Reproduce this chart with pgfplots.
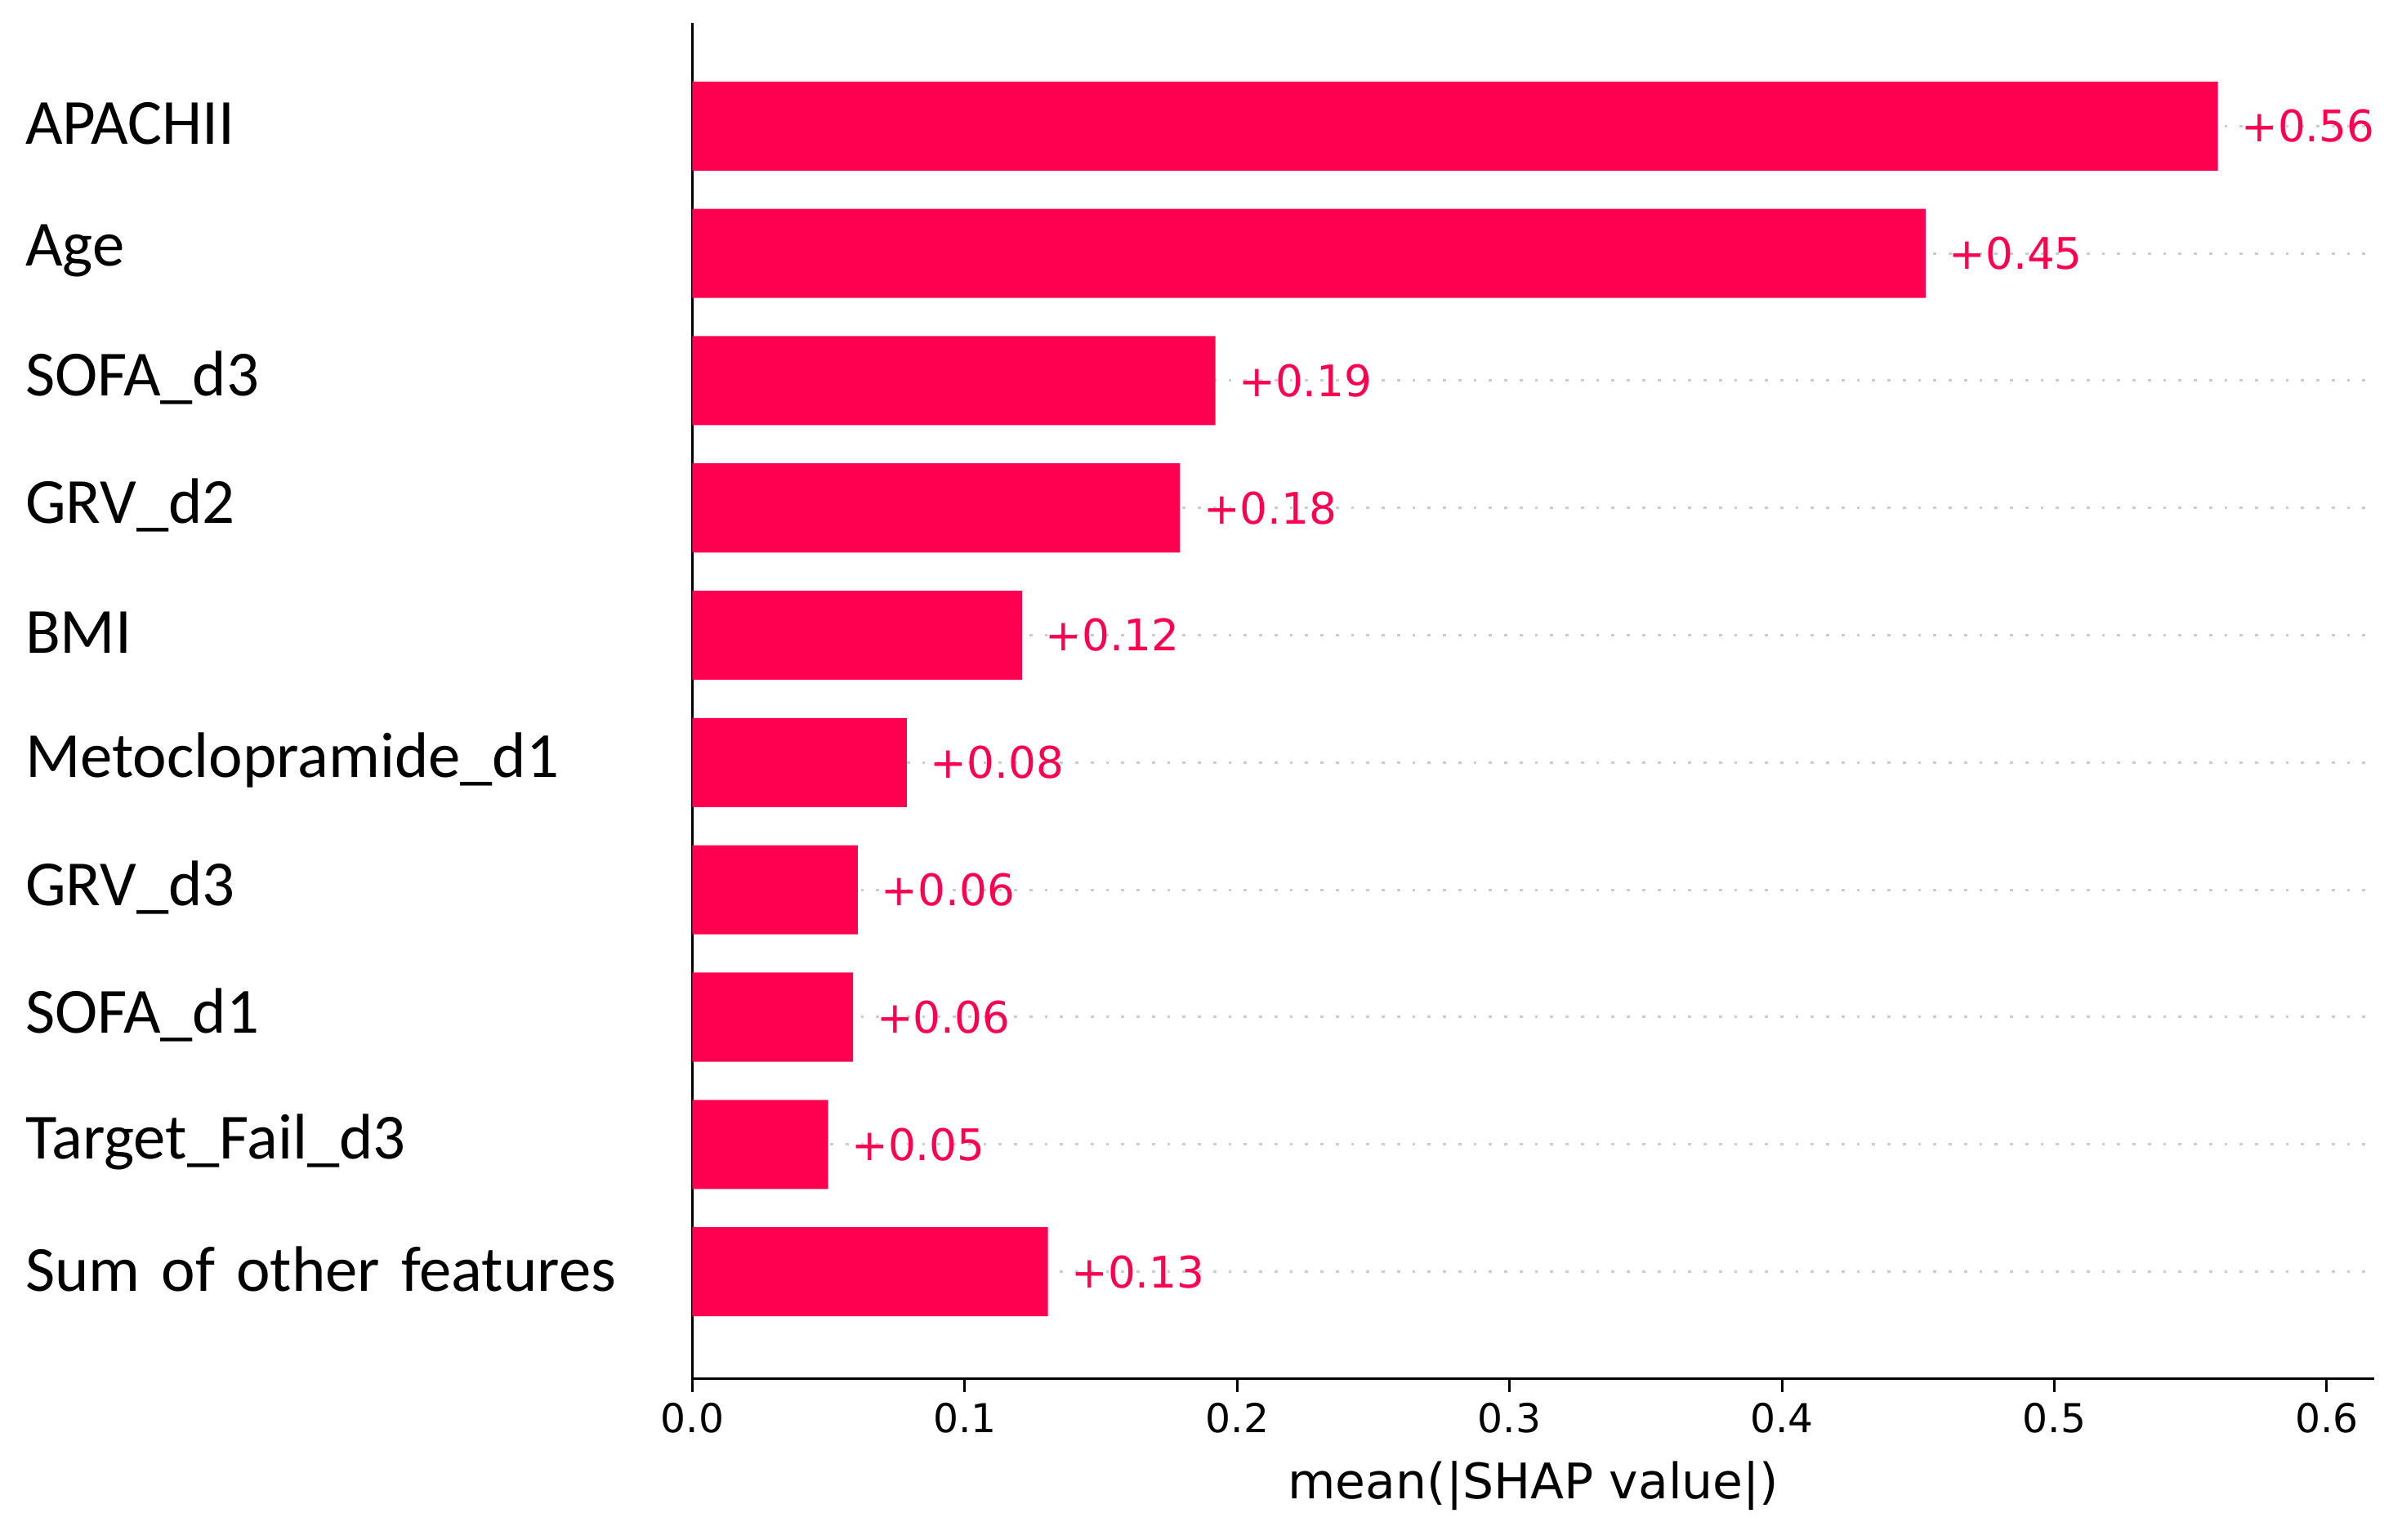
\documentclass[border=0pt]{standalone}
\usepackage{pgfplots}
\pgfplotsset{compat=1.18}
\usepackage{fontspec}
\setmainfont{DejaVu Sans}
\newfontfamily\calibri{Carlito}
\definecolor{shapred}{RGB}{255,0,81}
\definecolor{gridgray}{HTML}{CCCCCC}

\begin{document}
\begin{tikzpicture}
\begin{axis}[
    xbar,
    scale only axis,
    width=549bp, height=442.5bp,
    at={(0,0)}, anchor=south west,
    xmin=0, xmax=0.6175,
    ymin=-0.84, ymax=9.81,
    axis x line*=bottom, axis y line*=left,
    axis line style={line width=0.8bp, black, -},
    bar width=0.7,
    ytick={0,1,2,3,4,5,6,7,8,9},
    yticklabels={Sum of other features, Target\_Fail\_d3, SOFA\_d1, GRV\_d3,
        Metoclopramide\_d1, BMI, GRV\_d2, SOFA\_d3, Age, APACHII},
    yticklabel style={font=\calibri\fontsize{21bp}{25bp}\selectfont,
        anchor=east, text width=213bp, align=left, inner sep=0pt, yshift=0.8bp},
    ytick style={draw=none},
    xtick={0,0.1,0.2,0.3,0.4,0.5,0.6},
    xticklabel style={font=\fontsize{13bp}{15bp}\selectfont,
        /pgf/number format/.cd, fixed, fixed zerofill, precision=1},
    tick align=outside,
    major tick length=4.5bp,
    xtick style={line width=0.8bp, black},
    /pgf/number format/assume math mode=true,
    ymajorgrids,
    grid style={gridgray, line width=0.8bp, dash pattern=on 1bp off 4bp},
    xlabel={mean(|SHAP value|)},
    xlabel style={font=\fontsize{16bp}{19bp}\selectfont,
        at={(axis description cs:0.5,0)}, anchor=center, yshift=-35bp},
    point meta=x,
    nodes near coords={\pgfmathprintnumber[fixed, fixed zerofill, precision=2, showpos, assume math mode=true]{\pgfplotspointmeta}},
    every node near coord/.append style={anchor=west, inner sep=0pt, xshift=7.5bp,
        font=\fontsize{14.2bp}{17bp}\selectfont, text=shapred},
]
\addplot[fill=shapred, draw=none] coordinates {
    (0.1305,0) (0.0498,1) (0.059,2) (0.0607,3) (0.0787,4)
    (0.121,5) (0.179,6) (0.192,7) (0.4527,8) (0.560,9)
};
\end{axis}
\pgfresetboundingbox
\path[use as bounding box] (-226bp,-52.5bp) rectangle (558bp,450bp);
\end{tikzpicture}
\end{document}
